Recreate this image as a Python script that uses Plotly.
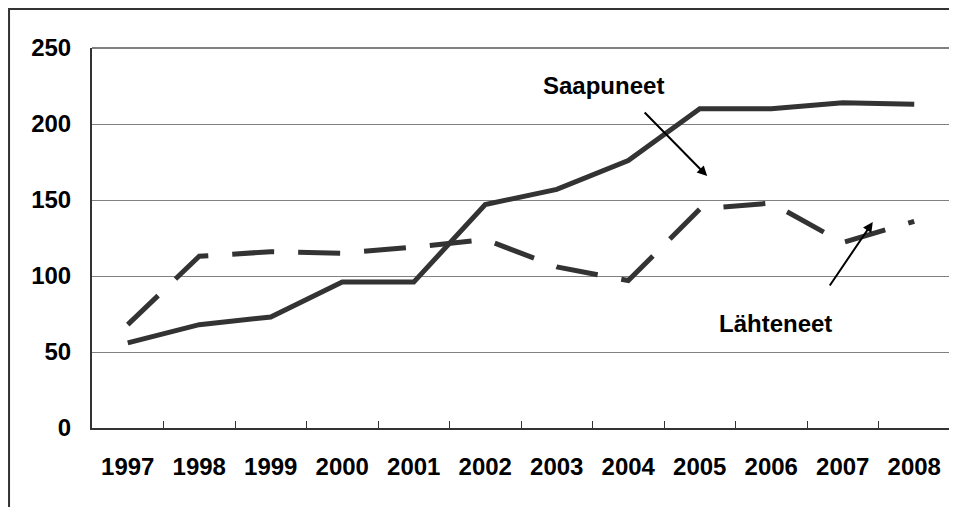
import plotly.graph_objects as go

years = ["1997", "1998", "1999", "2000", "2001", "2002", "2003", "2004", "2005", "2006", "2007", "2008"]
saapuneet = [56, 68, 73, 96, 96, 147, 157, 176, 210, 210, 214, 213]
lahteneet = [68, 113, 116, 115, 119, 124, 106, 97, 144, 148, 122, 136]
y_ticks = [0, 50, 100, 150, 200, 250]

font_family = "Arial, Liberation Sans, sans-serif"
line_color = "#333333"
fs = 24

fig = go.Figure()
fig.add_trace(go.Scatter(x=years, y=lahteneet, mode="lines", name="Lähteneet",
                         line=dict(color=line_color, width=5, dash="42px,24px")))
fig.add_trace(go.Scatter(x=years, y=saapuneet, mode="lines", name="Saapuneet",
                         line=dict(color=line_color, width=5)))

# plot area in figure px: left 84, right 942, top 40, bottom 420 (page body adds 8px)
fig.update_layout(
    width=949, height=499,
    margin=dict(l=84, r=7, t=40, b=79),
    paper_bgcolor="white", plot_bgcolor="white",
    showlegend=False,
    font=dict(family=font_family, size=fs, color="black"),
    xaxis=dict(type="category", range=[-0.5, 11.5], showgrid=False,
               showline=True, linecolor="#333333", linewidth=2,
               ticks="inside", tickson="boundaries", ticklen=7, tickcolor="#333333", tickwidth=1,
               tickfont=dict(family=font_family, size=fs, color="black", weight="bold"),
               ticklabelstandoff=16, zeroline=False),
    yaxis=dict(range=[0, 250], tickvals=y_ticks, showgrid=True, gridcolor="#808080", gridwidth=1,
               showline=True, linecolor="#333333", linewidth=2, ticks="",
               tickfont=dict(family=font_family, size=fs, color="black", weight="bold"),
               ticklabelstandoff=14, zeroline=False),
    shapes=[
        dict(type="line", xref="paper", yref="paper", x0=0, x1=1, y0=1, y1=1,
             line=dict(color="#808080", width=2)),
        dict(type="line", xref="paper", yref="paper", x0=1, x1=1, y0=0, y1=1,
             line=dict(color="#808080", width=2)),
        dict(type="rect", xref="paper", yref="paper", x0=-0.0967, x1=1.03, y0=-0.25, y1=1.1026,
             line=dict(color="#333333", width=2), layer="below"),
    ],
    annotations=[
        dict(text="<b>Saapuneet</b>", xref="paper", yref="paper", x=0.5956, y=0.9026,
             xanchor="center", yanchor="middle",
             showarrow=False, font=dict(family=font_family, size=fs, color="black")),
        dict(text="", xref="paper", yref="paper", x=0.717, y=0.663, ax=-64, ay=-65,
             showarrow=True, arrowhead=2, arrowsize=1, arrowwidth=2, arrowcolor="black"),
        dict(text="<b>Lähteneet</b>", xref="paper", yref="paper", x=0.797, y=0.276,
             xanchor="center", yanchor="middle",
             showarrow=False, font=dict(family=font_family, size=fs, color="black")),
        dict(text="", xref="paper", yref="paper", x=0.910, y=0.542, ax=-44, ay=65,
             showarrow=True, arrowhead=2, arrowsize=1, arrowwidth=2, arrowcolor="black"),
    ],
)

fig.write_html("out.html")
